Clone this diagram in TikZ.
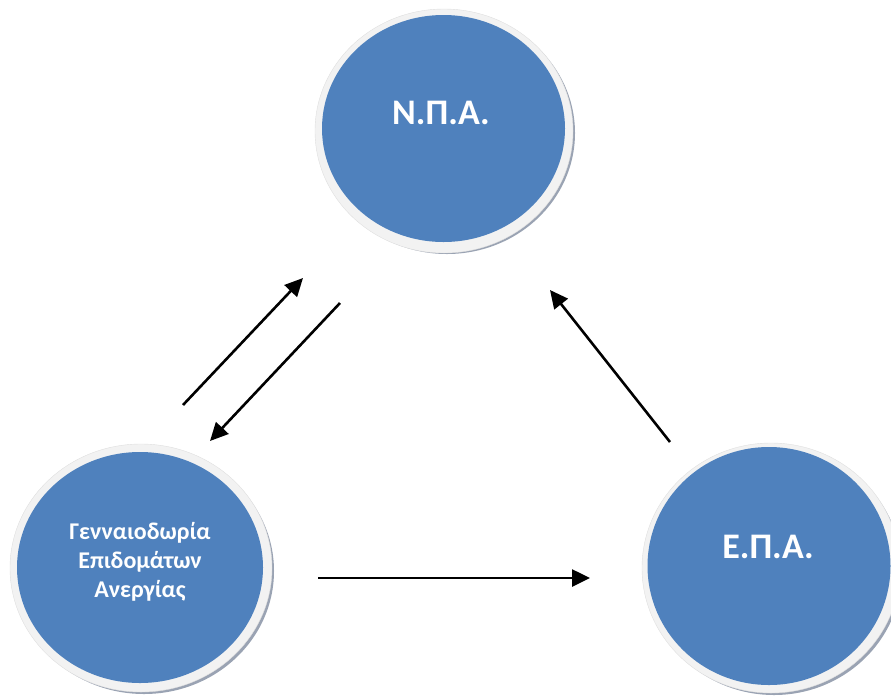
\documentclass[tikz,border=0pt]{standalone}
\usepackage{fontspec}
\setmainfont{Carlito}
\usetikzlibrary{shapes.geometric}
\usetikzlibrary{arrows.meta}

\definecolor{discblue}{HTML}{4F81BD}
\definecolor{ringgrey}{HTML}{F2F2F2}
\definecolor{shadegrey}{HTML}{9AA3B3}

\tikzset{
  disc/.style={ellipse,fill=discblue,draw=none,text=white,font=\bfseries,align=center,inner sep=0pt},
  flow/.style={line width=2.6pt,-{Triangle[length=18pt,width=17pt]}}
}

\begin{document}
\begin{tikzpicture}[x=1pt,y=-1pt]
\useasboundingbox (0,0) rectangle (891,697);
\begin{scope}
\clip (0,0) rectangle (891,697);
% rings and drop shadows behind the discs
\fill[shadegrey] (447,133) ellipse (128 and 121);
\fill[ringgrey,draw=gray!25,thin] (444,131) ellipse (129 and 122);
\fill[shadegrey] (144,571) ellipse (130 and 123);
\fill[ringgrey,draw=gray!25,thin] (141,568) ellipse (131 and 124);
\fill[shadegrey] (774,571) ellipse (128 and 124);
\fill[ringgrey,draw=gray!25,thin] (771,568) ellipse (129 and 125);

% the three discs
\node[disc,minimum width=243,minimum height=227] (npa) at (443.5,128.5) {};
\node[disc,minimum width=246,minimum height=231] (gen) at (140,567.5) {};
\node[disc,minimum width=243,minimum height=238] (epa) at (769,566) {};
\end{scope}

\node[font=\bfseries\fontsize{36}{36}\selectfont,text=white] (npatxt) at (441,113) {Ν.Π.Α.};
\node[font=\bfseries\fontsize{36}{36}\selectfont,text=white] (epatxt) at (768,547) {Ε.Π.Α.};
\node[font=\bfseries\fontsize{24}{29}\selectfont,text=white,align=center] (gentxt) at (140,562) {Γενναιοδωρία\\Επιδομάτων\\Ανεργίας};

% arrow ends
\coordinate (a1) at (183,405);
\coordinate (b1) at (303,278);
\coordinate (a2) at (340,303);
\coordinate (b2) at (210,441);
\coordinate (a3) at (670,442);
\coordinate (b3) at (550,290);
\coordinate (a4) at (318,578);
\coordinate (b4) at (590,578);

\draw[flow] (a1) -- (b1);
\draw[flow] (a2) -- (b2);
\draw[flow] (a3) -- (b3);
\draw[flow] (a4) -- (b4);
\end{tikzpicture}
\end{document}
